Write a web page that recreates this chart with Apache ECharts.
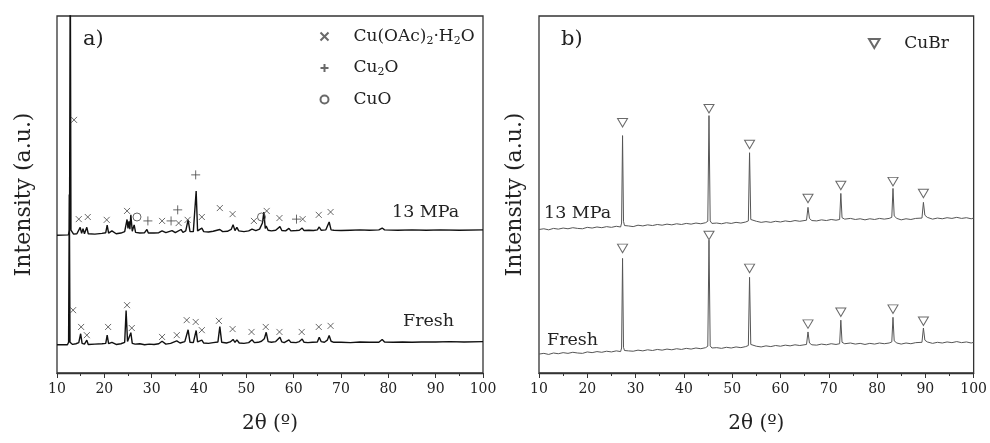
<!DOCTYPE html>
<html>
<head>
<meta charset="utf-8">
<script src="https://cdn.jsdelivr.net/npm/echarts@6/dist/echarts.min.js"></script>
<style>
  html, body { margin: 0; padding: 0; background: #fff; }
  #chart { width: 990px; height: 443px; }
</style>
</head>
<body>
<div id="chart"></div>
<script>
// 2θ ticks shared by both panels
const thetaTicks = [10, 20, 30, 40, 50, 60, 70, 80, 90, 100];

// panel a) — Cu(OAc)2·H2O sample, [2θ, intensity]
const freshA = [
  [10,7.9],[12.2,7.9],[12.45,8.6],[12.6,50],[12.75,8.6],[13.3,8.0],[14.0,8.2],[14.6,8.5],[15.0,11.0],[15.3,8.3],
  [15.8,8.1],[16.3,9.2],[16.6,8.0],[18.0,8.1],[19.5,8.2],[20.3,8.3],[20.6,10.6],[20.9,8.2],[21.6,8.6],[22.5,8.0],
  [23.5,8.2],[24.3,8.6],[24.6,17.5],[24.9,8.8],[25.3,8.6],[25.6,11.3],[25.9,8.3],[26.5,8.1],[27.5,8.2],[28.5,7.9],
  [29.5,8.1],[30.5,8.0],[31.5,8.2],[32.2,8.9],[33,8.1],[34,8.3],[35.3,9.0],[36,8.4],[37.0,8.8],[37.7,12.1],
  [38.1,8.6],[38.8,8.5],[39.4,11.9],[39.7,8.7],[40.6,9.2],[41,8.4],[42,8.3],[43,8.5],[44,8.7],[44.4,13.0],
  [44.8,8.6],[45.8,8.4],[46.6,8.7],[47.2,9.4],[47.6,8.6],[48,9.3],[48.5,8.4],[49.5,8.3],[50.5,8.5],[51.2,9.3],
  [51.7,8.5],[52.5,8.6],[53.2,8.9],[53.8,9.6],[54.2,11.4],[54.6,8.8],[55.3,8.6],[56.2,8.8],[57.1,10.0],[57.5,8.7],
  [58,8.5],[59,9.3],[59.4,8.6],[60.5,8.5],[61.2,8.8],[61.8,9.5],[62.2,8.6],[63,8.5],[64,8.6],[65,8.7],
  [65.4,10.0],[65.8,8.8],[66.5,8.6],[67.1,9.2],[67.5,10.5],[67.9,8.9],[68.5,8.6],[70,8.6],[72,8.5],[74,8.7],
  [76,8.6],[78,8.6],[78.7,9.4],[79.2,8.7],[81,8.6],[83,8.7],[85,8.6],[87,8.7],[90,8.7],[93,8.8],[96,8.7],[100,8.8]
];
const mpaA = [
  [10,38.6],[12.4,38.7],[12.65,40],[12.8,120],[12.95,40],[13.5,38.9],[14.2,39.0],[14.9,40.8],[15.2,39.1],[15.5,40.4],
  [15.8,39.0],[16.3,40.8],[16.6,39.0],[18,38.9],[19.5,39.1],[20.3,39.3],[20.6,41.4],[20.9,39.2],[21.6,39.8],[22.5,39.0],
  [23.5,39.2],[24.3,39.6],[24.8,43.0],[25.0,40.5],[25.2,42.5],[25.4,40.3],[25.6,44.3],[25.9,39.7],[26.3,41.5],[26.6,39.4],
  [27.5,39.2],[28.5,39.3],[29.0,40.2],[29.3,39.2],[30.5,39.2],[31.5,39.3],[32.2,39.8],[33,39.3],[34.3,39.9],[35,39.3],
  [36.2,40.2],[36.6,39.4],[37.2,39.8],[37.7,42.9],[38.1,39.6],[38.8,39.6],[39.4,51],[39.7,39.8],[40.6,40.6],[41,39.6],
  [42,39.5],[43,39.7],[44.4,40.2],[45,39.6],[46,39.7],[46.8,40.2],[47.2,41.5],[47.6,39.9],[48.0,40.8],[48.4,39.8],
  [49.5,39.6],[50.5,39.8],[51.2,40.3],[52,39.9],[52.8,40.3],[53.4,42],[53.7,45.1],[54.0,40.5],[54.2,41.2],[54.6,40],
  [55.3,39.8],[56.2,40],[57.1,41],[57.5,39.9],[58.3,39.8],[59,40.5],[59.4,39.8],[60.5,39.9],[61.2,40.0],[61.8,40.6],
  [62.2,39.9],[63.2,40.0],[64.2,39.9],[65,40.1],[65.4,40.9],[65.8,40.0],[66.8,40.1],[67.5,42.3],[67.9,40.1],[68.5,40.0],
  [70,39.9],[72,40.0],[74,40.1],[76,40.0],[78,40.1],[78.7,40.6],[79.2,40.1],[82,40.0],[85,40.1],[88,40.0],[91,40.1],[95,40.0],[100,40.1]
];
// phase markers for panel a)
const acetateMarks = [
  [13.6,70.9],[14.6,43.1],[16.5,43.7],[20.5,42.9],[24.8,45.4],[32.2,42.6],[35.7,42.0],[37.6,42.9],[40.6,43.7],
  [44.4,46.2],[47.1,44.5],[51.6,42.6],[54.3,45.4],[57.0,43.4],[61.9,43.1],[65.3,44.3],[67.8,45.1],
  [13.4,17.6],[15.1,12.9],[16.3,10.6],[20.8,12.9],[24.8,19.0],[25.8,12.6],[32.2,10.1],[35.3,10.6],[37.4,14.8],
  [39.3,14.3],[40.6,12.0],[44.2,14.6],[47.1,12.3],[51.1,11.5],[54.1,12.9],[57.0,11.5],[61.7,11.5],[65.3,12.9],[67.8,13.2]
];
const cu2oMarks = [[29.2,42.6],[34.1,42.6],[35.5,45.7],[39.3,55.5],[60.6,43.1]];
const cuoMarks = [[26.9,43.7],[53.2,43.7]];

// panel b) — CuBr sample
const mpaB = [
  [10,40.2],[11,40.4],[12,40.1],[13,40.5],[14,40.3],[15,40.6],[16,40.4],[17,40.7],[18,40.5],[19,40.4],[20,40.8],
  [21,40.6],[22,40.9],[23,40.7],[24,41.0],[25,40.8],[26,41.1],[26.9,40.9],[27.1,42],[27.3,66.5],[27.5,42.5],[27.7,41.3],
  [28.5,41.2],[29.5,41.0],[30.5,41.4],[31.5,41.2],[32.5,41.5],[33.5,41.3],[34.5,41.6],[35.5,41.4],[36.5,41.7],[37.5,41.5],
  [38.5,41.8],[39.5,41.6],[40.5,41.9],[41.5,41.7],[42.5,42.0],[43.5,41.8],[44.5,42.1],[44.95,42.5],[45.2,72.1],[45.45,42.6],
  [45.8,41.9],[46.8,42.0],[47.8,41.8],[48.8,42.1],[49.8,41.9],[50.8,42.2],[51.8,42.0],[52.8,42.3],[53.35,42.6],[53.6,61.7],
  [53.85,43.0],[54.2,42.7],[55,42.5],[56,42.2],[57,42.4],[58,42.2],[59,42.5],[60,42.3],[61,42.6],[62,42.4],[63,42.7],
  [64,42.5],[65.4,42.8],[65.7,46.4],[66,43.3],[66.5,42.7],[67.5,42.6],[68.5,42.9],[69.5,42.7],[70.5,43.0],[71.5,42.8],
  [72.25,43.0],[72.5,50.3],[72.75,43.5],[73.3,43.1],[74.5,43.3],[75.5,43.0],[76.5,43.2],[77.5,42.9],[78.5,43.2],[79.5,43.0],
  [80.5,43.3],[81.5,43.1],[82.5,43.3],[83.05,43.6],[83.3,51.7],[83.55,44.0],[84.1,43.3],[85,42.9],[86,43.2],[87,43.0],
  [88,43.3],[89.3,43.4],[89.6,47.8],[89.9,44.2],[90.4,43.6],[91.5,43.1],[92.5,43.4],[93.5,43.2],[94.5,43.5],[95.5,43.3],
  [96.5,43.6],[97.5,43.3],[98.5,43.5],[99.5,43.2],[100,43.4]
];
const freshB = [
  [10,5.3],[11,5.5],[12,5.2],[13,5.6],[14,5.4],[15,5.7],[16,5.5],[17,5.8],[18,5.6],[19,5.5],[20,5.9],
  [21,5.7],[22,6.0],[23,5.8],[24,6.1],[25,5.9],[26,6.2],[26.9,6.0],[27.1,7],[27.3,32.1],[27.5,7.2],[27.7,6.3],
  [28.5,6.2],[29.5,6.1],[30.5,6.4],[31.5,6.2],[32.5,6.5],[33.5,6.3],[34.5,6.6],[35.5,6.4],[36.5,6.7],[37.5,6.5],
  [38.5,6.8],[39.5,6.6],[40.5,6.9],[41.5,6.7],[42.5,7.0],[43.5,6.8],[44.5,7.1],[44.95,7.5],[45.2,37.2],[45.45,7.6],
  [45.8,7.0],[46.8,7.1],[47.8,6.9],[48.8,7.2],[49.8,7.0],[50.8,7.3],[51.8,7.1],[52.8,7.4],[53.35,7.7],[53.6,26.8],
  [53.85,8.0],[54.2,7.6],[55,7.5],[56,7.3],[57,7.6],[58,7.4],[59,7.7],[60,7.5],[61,7.8],[62,7.6],[63,7.9],
  [64,7.7],[65.4,8.0],[65.7,11.5],[66,8.4],[66.5,7.9],[67.5,7.8],[68.5,8.1],[69.5,7.9],[70.5,8.2],[71.5,8.0],
  [72.25,8.2],[72.5,14.8],[72.75,8.6],[73.3,8.2],[74.5,8.4],[75.5,8.1],[76.5,8.3],[77.5,8.0],[78.5,8.3],[79.5,8.1],
  [80.5,8.4],[81.5,8.2],[82.5,8.4],[83.05,8.7],[83.3,15.6],[83.55,9.0],[84.1,8.4],[85,8.1],[86,8.4],[87,8.2],
  [88,8.5],[89.3,8.6],[89.6,12.6],[89.9,9.2],[90.4,8.7],[91.5,8.3],[92.5,8.6],[93.5,8.4],[94.5,8.7],[95.5,8.5],
  [96.5,8.8],[97.5,8.5],[98.5,8.7],[99.5,8.4],[100,8.6]
];
const cubrMarks = [
  [27.3,70.1],[45.2,74.0],[53.6,64.0],[65.7,48.9],[72.5,52.5],[83.3,53.6],[89.6,50.3],
  [27.3,34.9],[45.2,38.5],[53.6,29.3],[65.7,13.7],[72.5,17.0],[83.3,17.9],[89.6,14.5]
];

const FONT = 'DejaVu Serif';
const INK = '#222';
const X_PATH = 'path://M0,0L10,10M10,0L0,10';
const PLUS_PATH = 'path://M5,0L5,10M0,5L10,5';
const TRI_PATH = 'path://M0,0L10,0L5,8.5Z';

function xAxisFor(gridIndex) {
  return {
    gridIndex: gridIndex,
    type: 'value',
    min: thetaTicks[0],
    max: thetaTicks[thetaTicks.length - 1],
    interval: 10,
    name: '2θ (º)',
    nameLocation: 'middle',
    nameGap: 41,
    nameTextStyle: { fontFamily: FONT, fontSize: 20, color: INK },
    axisLine: { lineStyle: { color: '#333', width: 1.3 } },
    axisTick: { length: 5, lineStyle: { color: '#333' } },
    minorTick: { show: true, splitNumber: 2, length: 3, lineStyle: { color: '#333' } },
    axisLabel: { fontFamily: FONT, fontSize: 14, color: INK, margin: 9 },
    splitLine: { show: false }
  };
}
function yAxisFor(gridIndex, gap) {
  return {
    gridIndex: gridIndex,
    type: 'value',
    min: 0,
    max: 100,
    name: 'Intensity (a.u.)',
    nameLocation: 'middle',
    nameGap: gap,
    nameTextStyle: { fontFamily: FONT, fontSize: 22, color: INK },
    axisLine: { show: false },
    axisTick: { show: false },
    axisLabel: { show: false },
    splitLine: { show: false }
  };
}
function markSeries(name, xi, data, symbol, size, fill, stroke) {
  return {
    name: name,
    type: 'scatter',
    xAxisIndex: xi,
    yAxisIndex: xi,
    data: data,
    symbol: symbol,
    symbolSize: size,
    itemStyle: { color: fill, borderColor: stroke, borderWidth: 1 },
    emphasis: { disabled: true },
    z: 3
  };
}
function textEl(text, x, y, size) {
  return {
    type: 'text',
    x: x, y: y,
    style: { text: text, fontFamily: FONT, fontSize: size, fill: INK, textVerticalAlign: 'middle' }
  };
}

const chart = echarts.init(document.getElementById('chart'));
const option = {
  animation: false,
  grid: [
    { left: 57, top: 16, width: 426, height: 357, show: true, borderColor: '#333', borderWidth: 1.3 },
    { left: 539, top: 16, width: 437, height: 357, show: true, borderColor: '#333', borderWidth: 1.3 }
  ],
  xAxis: [xAxisFor(0), xAxisFor(1)],
  yAxis: [yAxisFor(0, 22), yAxisFor(1, 13)],
  legend: [
    {
      data: ['Cu(OAc)2·H2O', 'Cu2O', 'CuO'],
      orient: 'vertical',
      left: 313, top: 23,
      itemWidth: 48, itemHeight: 8, itemGap: 13,
      selectedMode: false,
      formatter: function (name) {
        if (name === 'Cu(OAc)2·H2O') return '{n|Cu(OAc)}{s|2}{n|·H}{s|2}{n|O}';
        if (name === 'Cu2O') return '{n|Cu}{s|2}{n|O}';
        return '{n|' + name + '}';
      },
      textStyle: {
        rich: {
          n: { fontFamily: FONT, fontSize: 17, color: INK, lineHeight: 20 },
          s: { fontFamily: FONT, fontSize: 11, color: INK, lineHeight: 11, verticalAlign: 'bottom' }
        }
      }
    },
    {
      data: ['CuBr'],
      left: 863, top: 30,
      itemWidth: 50, itemHeight: 9,
      selectedMode: false,
      textStyle: { fontFamily: FONT, fontSize: 17, color: INK }
    }
  ],
  graphic: [
    textEl('a)', 83, 40, 21),
    textEl('b)', 561, 40, 21),
    textEl('13 MPa', 392, 212, 17.5),
    textEl('Fresh', 403, 321, 17.5),
    textEl('13 MPa', 544, 213, 17.5),
    textEl('Fresh', 547, 340, 17.5)
  ],
  series: [
    { name: '13 MPa a', type: 'line', xAxisIndex: 0, yAxisIndex: 0, data: mpaA, showSymbol: false,
      lineStyle: { color: '#111', width: 1.4 }, z: 2 },
    { name: 'Fresh a', type: 'line', xAxisIndex: 0, yAxisIndex: 0, data: freshA, showSymbol: false,
      lineStyle: { color: '#111', width: 1.4 }, z: 2 },
    markSeries('Cu(OAc)2·H2O', 0, acetateMarks, X_PATH, 6, 'none', '#444'),
    markSeries('Cu2O', 0, cu2oMarks, PLUS_PATH, 9, 'none', '#444'),
    markSeries('CuO', 0, cuoMarks, 'circle', 8, 'none', '#444'),
    { name: '13 MPa b', type: 'line', xAxisIndex: 1, yAxisIndex: 1, data: mpaB, showSymbol: false,
      lineStyle: { color: '#555', width: 1 }, z: 2 },
    { name: 'Fresh b', type: 'line', xAxisIndex: 1, yAxisIndex: 1, data: freshB, showSymbol: false,
      lineStyle: { color: '#555', width: 1 }, z: 2 },
    markSeries('CuBr', 1, cubrMarks, TRI_PATH, [10, 8.5], '#fff', '#444')
  ]
};
chart.setOption(option);
</script>
</body>
</html>
